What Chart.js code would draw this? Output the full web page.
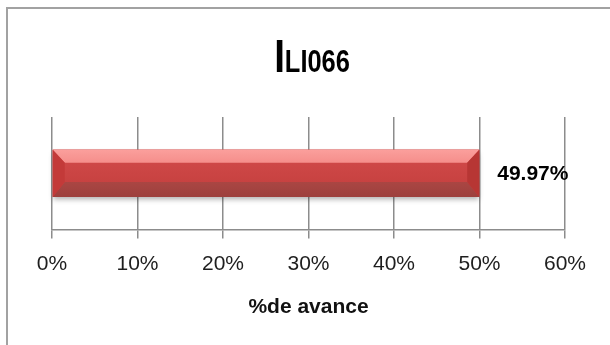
<!DOCTYPE html>
<html>
<head>
<meta charset="utf-8">
<script src="https://cdn.jsdelivr.net/npm/chart.js@4.4.1/dist/chart.umd.min.js"></script>
<style>
    body { margin: 0; background: #fff; overflow: hidden; }
    #wrap { position: relative; width: 610px; height: 345px; }
    #frame {
        position: absolute; left: 6px; top: 7px; width: 700px; height: 400px;
        border-left: 2px solid #a2a2a2; border-top: 2px solid #a2a2a2;
        pointer-events: none;
    }
</style>
</head>
<body>
<div id="wrap">
    <canvas id="barChart" width="610" height="345"></canvas>
    <div id="frame"></div>
</div>
<script>
// datos del grafico
const categories = ['ILI066'];
const avance = [49.97];
const xTicks = [0, 10, 20, 30, 40, 50, 60];
const axisTitle = '%de avance';
const chartTitle = 'ILI066';

// titulo con la primera letra mas grande (fuente estrecha simulada)
const titlePlugin = {
    id: 'titlePlugin',
    afterDraw(chart) {
        const ctx = chart.ctx;
        const fam = "'Liberation Sans', Arial, sans-serif";
        const sx = 0.82;
        const big = chartTitle.charAt(0);
        const rest = chartTitle.slice(1);
        ctx.save();
        ctx.fillStyle = '#000';
        ctx.textBaseline = 'alphabetic';
        ctx.font = 'bold 47px ' + fam;
        const w1 = ctx.measureText(big).width;
        ctx.font = 'bold 31px ' + fam;
        const w2 = ctx.measureText(rest).width;
        const x0 = 312 - (w1 + w2) * sx / 2;
        ctx.translate(x0, 72);
        ctx.scale(sx, 1);
        ctx.font = 'bold 47px ' + fam;
        ctx.fillText(big, 0, 0);
        ctx.font = 'bold 31px ' + fam;
        ctx.fillText(rest, w1, 0);
        ctx.restore();
    }
};

// barra con bisel y etiqueta
const bevelBar = {
    id: 'bevelBar',
    afterDatasetsDraw(chart) {
        const ctx = chart.ctx;
        const meta = chart.getDatasetMeta(0);
        meta.data.forEach((bar, i) => {
            const p = bar.getProps(['x', 'y', 'base', 'height'], true);
            const l = p.base, r = p.x, t = p.y - p.height / 2, b = p.y + p.height / 2;
            const bw = 12, tb = 13, bb = 15;

            ctx.save();
            // cuerpo con sombra
            const mid = ctx.createLinearGradient(0, t, 0, b);
            mid.addColorStop(0, '#d34b4b');
            mid.addColorStop(1, '#c23e3c');
            ctx.shadowColor = 'rgba(0,0,0,0.3)';
            ctx.shadowBlur = 5;
            ctx.shadowOffsetY = 3;
            ctx.fillStyle = mid;
            ctx.fillRect(l, t, r - l, b - t);
            ctx.shadowColor = 'transparent';

            const poly = (pts, fill) => {
                ctx.beginPath();
                ctx.moveTo(pts[0][0], pts[0][1]);
                pts.slice(1).forEach(q => ctx.lineTo(q[0], q[1]));
                ctx.closePath();
                ctx.fillStyle = fill;
                ctx.fill();
            };
            const top = ctx.createLinearGradient(0, t, 0, t + tb);
            top.addColorStop(0, '#fb9f9c');
            top.addColorStop(1, '#f58e8b');
            poly([[l, t], [r, t], [r - bw, t + tb], [l + bw, t + tb]], top);
            const bot = ctx.createLinearGradient(0, b - bb, 0, b);
            bot.addColorStop(0, '#aa4643');
            bot.addColorStop(1, '#9d403d');
            poly([[l, b], [r, b], [r - bw, b - bb], [l + bw, b - bb]], bot);
            poly([[l, t], [l + bw, t + tb], [l + bw, b - bb], [l, b]], '#c33a39');
            poly([[r, t], [r - bw, t + tb], [r - bw, b - bb], [r, b]], '#b73634');

            // etiqueta de valor
            ctx.fillStyle = '#000';
            ctx.font = "bold 21px 'Liberation Sans', Arial, sans-serif";
            ctx.textAlign = 'left';
            ctx.textBaseline = 'middle';
            ctx.fillText(avance[i].toFixed(2) + '%', r + 18, p.y + 1);
            ctx.restore();
        });
    }
};

const ctx = document.getElementById('barChart').getContext('2d');
new Chart(ctx, {
    type: 'bar',
    data: {
        labels: categories,
        datasets: [{
            label: axisTitle,
            data: avance,
            backgroundColor: '#cc4444',
            borderWidth: 0,
            categoryPercentage: 1,
            barPercentage: 0.42
        }]
    },
    options: {
        indexAxis: 'y',
        responsive: false,
        animation: false,
        layout: { padding: { top: 117, bottom: 21, left: 52, right: 45 } },
        plugins: {
            legend: { display: false },
            tooltip: { enabled: false }
        },
        scales: {
            x: {
                min: xTicks[0],
                max: xTicks[xTicks.length - 1],
                afterBuildTicks: axis => { axis.ticks = xTicks.map(v => ({ value: v })); },
                ticks: {
                    padding: 13,
                    color: '#1e1e1e',
                    font: { family: "'Liberation Sans', Arial, sans-serif", size: 21 },
                    callback: v => v + '%'
                },
                grid: { color: '#8c8c8c', lineWidth: 1.5, tickLength: 9, drawTicks: true },
                border: { color: '#8c8c8c', width: 1.5 },
                title: {
                    display: true,
                    text: axisTitle,
                    color: '#111',
                    font: { family: "'Liberation Sans', Arial, sans-serif", size: 21, weight: 'bold' },
                    padding: { top: 5, bottom: 4 }
                }
            },
            y: { display: false }
        }
    },
    plugins: [titlePlugin, bevelBar]
});
</script>
</body>
</html>
